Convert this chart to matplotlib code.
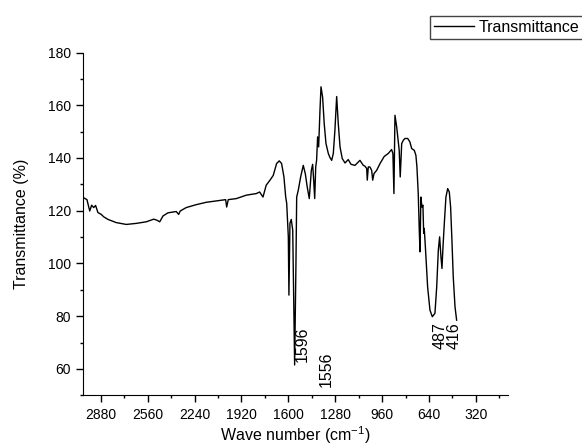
import numpy as np
import matplotlib.pyplot as plt
from matplotlib.ticker import MultipleLocator

plt.rcParams['font.family'] = ['Liberation Sans', 'DejaVu Sans']
plt.rcParams['mathtext.fontset'] = 'custom'
plt.rcParams['mathtext.rm'] = 'Liberation Sans'

# FTIR spectrum (wave number in cm-1, transmittance in %)
wavenumber = [3000, 2975, 2956, 2943, 2929, 2916, 2900, 2877, 2861, 2831, 2775, 2706,
              2638, 2570, 2519, 2497, 2478, 2456, 2422, 2365, 2349, 2338, 2297, 2229,
              2160, 2092, 2028, 2021, 2010, 1955, 1887, 1819, 1796, 1773, 1751, 1725,
              1703, 1680, 1662, 1646, 1630, 1618, 1611, 1600, 1596, 1589, 1580, 1570,
              1557, 1548, 1543, 1532, 1516, 1498, 1484, 1471, 1457, 1443, 1434, 1427,
              1420, 1413, 1407, 1400, 1393, 1384, 1377, 1366, 1355, 1343, 1327, 1316,
              1304, 1293, 1282, 1270, 1259, 1247, 1232, 1213, 1191, 1172, 1145, 1111,
              1088, 1077, 1065, 1061, 1054, 1043, 1031, 1024, 1015, 997, 974, 945,
              918, 895, 886, 879, 872, 860, 849, 843, 836, 826, 815, 804,
              785, 770, 758, 740, 729, 722, 713, 706, 701, 695, 688, 681,
              676, 672, 663, 649, 633, 617, 599, 587, 576, 567, 558, 551,
              544, 535, 524, 512, 501, 492, 483, 474, 462, 451]
transmittance = [125.0, 124.2, 119.9, 122.1, 121.2, 122.0, 119.3, 118.6, 117.7, 116.7, 115.5, 114.8,
                 115.2, 115.8, 116.8, 116.4, 115.8, 118.0, 119.2, 119.7, 118.6, 119.9, 121.2, 122.3,
                 123.2, 123.7, 124.2, 121.4, 124.2, 124.6, 125.9, 126.5, 127.1, 125.2, 129.7, 131.6,
                 133.4, 137.9, 138.9, 137.9, 132.8, 125.2, 122.7, 110.0, 88.0, 115.2, 116.7, 112.6,
                 61.5, 100.0, 125.2, 127.8, 132.8, 137.2, 134.0, 129.0, 124.6, 135.3, 137.6, 131.6,
                 124.6, 136.6, 139.1, 148.0, 144.2, 158.0, 167.0, 163.1, 153.0, 145.5, 141.7, 140.2,
                 139.1, 141.7, 150.5, 163.3, 153.0, 144.2, 139.8, 138.1, 139.4, 137.6, 137.2, 139.1,
                 137.2, 136.9, 136.0, 131.6, 136.6, 136.6, 135.3, 131.6, 134.1, 135.3, 137.9, 140.6,
                 141.7, 143.2, 141.7, 126.5, 156.2, 151.7, 146.1, 142.9, 132.8, 145.5, 146.7, 147.4,
                 147.4, 146.1, 143.6, 142.9, 141.0, 136.6, 126.5, 112.6, 104.4, 125.2, 121.4, 122.1,
                 111.4, 113.3, 105.0, 91.1, 82.3, 79.8, 81.1, 91.1, 105.0, 110.1, 102.5, 98.1,
                 106.3, 115.2, 125.2, 128.4, 127.1, 121.4, 108.8, 94.9, 83.6, 78.5]

# peak labels: text, x, y (bottom of the rotated text)
peak_labels = ['1596', '1556', '487', '416']
peak_x = [1502, 1343, 565, 469]
peak_y = [62.6, 53.1, 67.5, 67.5]

fig = plt.figure(figsize=(5.82, 4.48), dpi=100)
ax = fig.add_axes([0.1431, 0.1176, 0.7298, 0.7652])

ax.plot(wavenumber, transmittance, color='black', lw=1.0, label='Transmittance')

for t, x, y in zip(peak_labels, peak_x, peak_y):
    ax.text(x, y, t, rotation=90, ha='center', va='bottom', fontsize=11.5)

ax.set_xlim(3000, 100)
ax.set_ylim(50, 180)
ax.set_xticks([2880, 2560, 2240, 1920, 1600, 1280, 960, 640, 320])
ax.xaxis.set_minor_locator(MultipleLocator(160))
ax.set_yticks([60, 80, 100, 120, 140, 160, 180])
ax.yaxis.set_minor_locator(MultipleLocator(10))

ax.spines['top'].set_visible(False)
ax.spines['right'].set_visible(False)
ax.tick_params(which='major', direction='out', length=5, width=1, labelsize=10, pad=4)
ax.tick_params(which='minor', direction='out', length=2.5, width=1)

ax.set_xlabel('Wave number (cm$^{\\mathrm{-1}}$)', fontsize=11.5, labelpad=2)
ax.set_ylabel('Transmittance (%)', fontsize=11.5, labelpad=13)

fig.legend(loc='upper left', bbox_to_anchor=(430 / 582, 1 - 15.7 / 448),
           borderaxespad=0, fancybox=False, edgecolor='#444444', framealpha=1,
           fontsize=11.5, handlelength=2.5, handletextpad=0.3, borderpad=0.25)

fig.savefig('out.png', dpi=100)
